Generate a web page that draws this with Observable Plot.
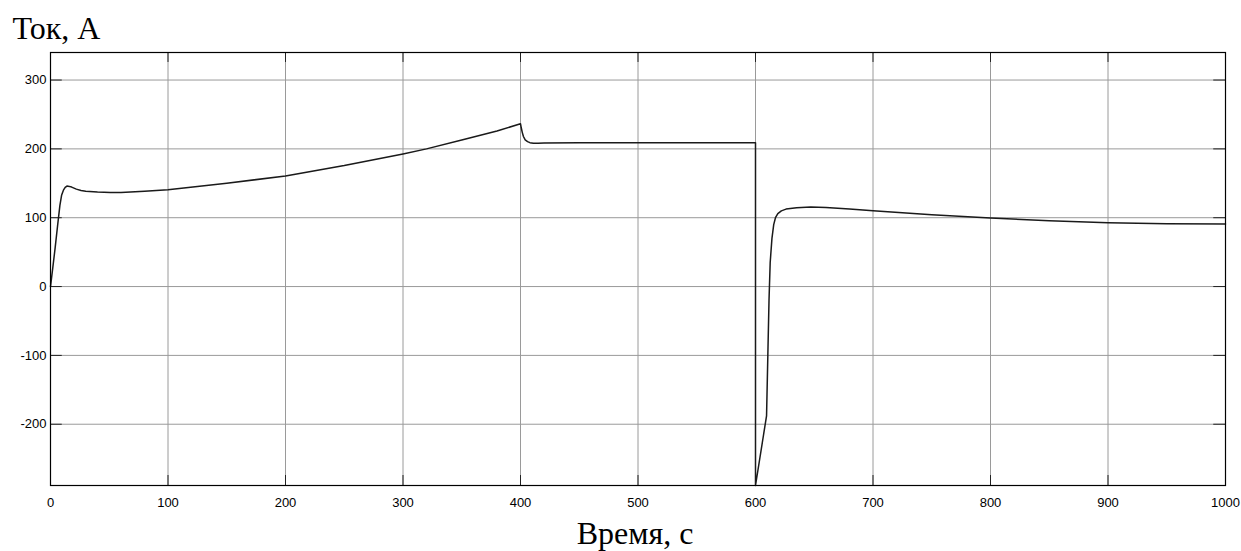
<!DOCTYPE html>
<html>
<head>
<meta charset="utf-8">
<script src="https://cdn.jsdelivr.net/npm/d3@7"></script>
<script src="https://cdn.jsdelivr.net/npm/@observablehq/plot@0.6"></script>
<style>
  html, body { margin: 0; padding: 0; background: #fff; }
</style>
</head>
<body>
<div id="chart"></div>
<script>
// Time (s)
const time = [0, 2, 4, 6, 8, 9.5, 11, 12.5, 14, 16, 18, 22, 26, 30, 40, 51, 60, 80, 100,
  150, 200, 250, 300, 320, 350, 380, 400, 400.6, 401.5, 402.5, 404, 406, 408, 411, 415, 420,
  450, 500, 550, 600, 600, 609.4, 610.5, 611.5, 612.5, 614, 615.5, 617, 619, 622, 626,
  635, 647, 660, 680, 700, 750, 800, 850, 900, 950, 1000];
// Current (A)
const current = [0, 28, 57, 88, 118, 133, 140, 144, 146, 145.5, 144.5, 141.5, 139.5, 138.5, 137.2, 136.5, 136.8, 138.3, 140.5,
  150, 160.7, 175.7, 192.7, 200, 213, 226, 236.5, 231, 224, 218, 213, 210.5, 209, 208.2, 208.3, 208.6,
  209, 209, 209, 209, -289, -188, -100, -20, 35, 70, 90, 100, 106, 110, 112.5,
  114.5, 115.5, 115, 112.5, 110, 104.3, 99.5, 95.6, 92.7, 91.3, 90.8];
const xTicks = [0, 100, 200, 300, 400, 500, 600, 700, 800, 900, 1000];
const yTicks = [-200, -100, 0, 100, 200, 300];
const xDomain = [0, 1000];
const yDomain = [-289, 340];
const yLabel = "Ток, А";
const xLabel = "Время, с";

const data = time.map((t, i) => ({t, v: current[i]}));
const xTickLen = 10;   // in x units
const yTickLen = 14.5; // in y units

const chart = Plot.plot({
  width: 1241,
  height: 551,
  marginLeft: 50,
  marginRight: 16,
  marginTop: 52,
  marginBottom: 66,
  x: {domain: xDomain},
  y: {domain: yDomain},
  style: {fontFamily: "'Liberation Sans', Arial, sans-serif", background: "#fff"},
  marks: [
    Plot.gridX(xTicks, {stroke: "#9a9a9a", strokeOpacity: 1}),
    Plot.gridY(yTicks, {stroke: "#9a9a9a", strokeOpacity: 1}),
    // inward ticks
    Plot.ruleY(yTicks, {y: d => d, x1: xDomain[0], x2: xDomain[0] + xTickLen, stroke: "#222"}),
    Plot.ruleY(yTicks, {y: d => d, x1: xDomain[1] - xTickLen, x2: xDomain[1], stroke: "#222"}),
    Plot.ruleX(xTicks, {x: d => d, y1: yDomain[0], y2: yDomain[0] + yTickLen, stroke: "#222"}),
    Plot.ruleX(xTicks, {x: d => d, y1: yDomain[1] - yTickLen, y2: yDomain[1], stroke: "#222"}),
    Plot.line(data, {x: "t", y: "v", stroke: "#1a1a1a", strokeWidth: 1.5, curve: "linear"}),
    Plot.frame({stroke: "#000", strokeWidth: 1.2}),
    Plot.axisY({ticks: yTicks, tickSize: 0, tickPadding: 4, fontSize: 13, label: null, tickFormat: d => String(d)}),
    Plot.axisX({ticks: xTicks, tickSize: 0, tickPadding: 12, fontSize: 13, label: null, tickFormat: d => String(d)}),
    Plot.text([yLabel], {frameAnchor: "top-left", dx: -38, dy: -36, textAnchor: "start",
      fontSize: 32, fontFamily: "'Liberation Serif', 'Times New Roman', serif", fill: "#000"}),
    Plot.text([xLabel], {frameAnchor: "bottom", dx: -3, dy: 58, textAnchor: "middle",
      fontSize: 32, fontFamily: "'Liberation Serif', 'Times New Roman', serif", fill: "#000"})
  ]
});
document.getElementById("chart").appendChild(chart);
</script>
</body>
</html>
